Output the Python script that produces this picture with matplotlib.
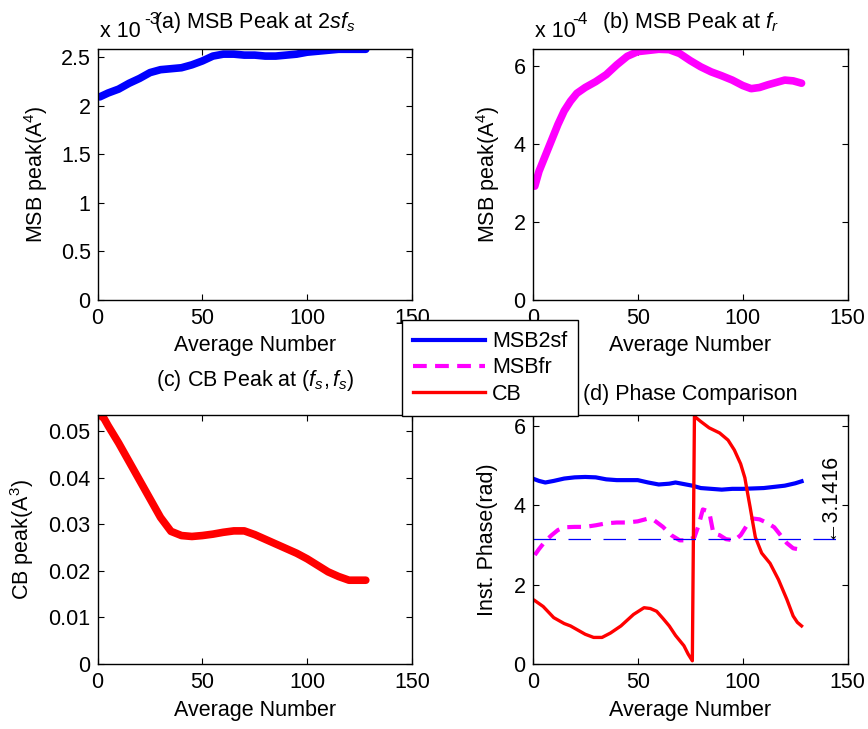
import numpy as np
import matplotlib
matplotlib.use('Agg')
import matplotlib.pyplot as plt
from matplotlib.ticker import FuncFormatter, MultipleLocator

# ---------------- data ----------------
# (a) MSB peak at 2sf_s  (units of 1e-3 A^4)
x_a = [1, 5, 10, 15, 20, 25, 30, 35, 40, 45, 50, 55, 60, 65, 70, 75, 80, 85,
       90, 95, 100, 105, 110, 115, 120, 125, 128]
msb2sf_peak = [2.09, 2.13, 2.17, 2.23, 2.28, 2.34, 2.37, 2.38, 2.39, 2.42, 2.46,
               2.51, 2.53, 2.53, 2.52, 2.52, 2.51, 2.51, 2.52, 2.53, 2.55, 2.56,
               2.57, 2.58, 2.58, 2.58, 2.58]

# (b) MSB peak at f_r  (units of 1e-4 A^4)
x_b = [1, 3, 6, 9, 12, 15, 18, 21, 25, 30, 35, 40, 45, 50, 55, 60, 65, 70, 75,
       80, 85, 90, 95, 100, 104, 108, 112, 116, 120, 124, 128]
msbfr_peak = [2.92, 3.3, 3.7, 4.1, 4.5, 4.85, 5.1, 5.3, 5.45, 5.6, 5.78, 6.03,
              6.25, 6.37, 6.4, 6.43, 6.42, 6.32, 6.14, 5.98, 5.85, 5.75, 5.64,
              5.5, 5.42, 5.45, 5.52, 5.58, 5.64, 5.62, 5.56]

# (c) CB peak (A^3)
x_c = [1, 3, 5, 10, 15, 20, 25, 30, 35, 40, 45, 50, 55, 60, 65, 70, 75, 80, 85,
       90, 95, 100, 105, 110, 115, 120, 124, 128]
cb_peak = [0.0535, 0.0528, 0.0512, 0.0475, 0.0435, 0.0395, 0.0355, 0.0315,
           0.0285, 0.0276, 0.0274, 0.0276, 0.0279, 0.0283, 0.0286, 0.0286,
           0.0278, 0.0268, 0.0258, 0.0248, 0.0238, 0.0226, 0.0212, 0.0198,
           0.0188, 0.0180, 0.0180, 0.0180]

# (d) instantaneous phase (rad)
x_ph_2sf = [1, 3, 6, 10, 15, 20, 25, 30, 35, 40, 45, 50, 55, 60, 65, 68, 72, 76,
            80, 85, 90, 95, 100, 105, 110, 115, 120, 125, 128]
phase_2sf = [4.66, 4.62, 4.58, 4.62, 4.68, 4.71, 4.72, 4.71, 4.66, 4.64, 4.64,
             4.64, 4.58, 4.53, 4.55, 4.58, 4.54, 4.5, 4.44, 4.42, 4.4, 4.42,
             4.42, 4.43, 4.44, 4.47, 4.5, 4.56, 4.61]

x_ph_fr = [1, 3, 6, 9, 12, 15, 20, 25, 30, 35, 40, 45, 50, 55, 58, 62, 66, 70,
           74, 77, 79, 81, 84, 86, 89, 92, 96, 99, 102, 105, 108, 112, 115, 118,
           121, 124, 128]
phase_fr = [2.75, 2.9, 3.1, 3.25, 3.38, 3.45, 3.46, 3.46, 3.5, 3.55, 3.57, 3.57,
            3.6, 3.67, 3.62, 3.46, 3.25, 3.12, 3.12, 3.2, 3.5, 3.9, 3.85, 3.3,
            3.25, 3.15, 3.12, 3.25, 3.5, 3.67, 3.65, 3.55, 3.45, 3.25, 3.05,
            2.92, 2.88]

x_ph_cb = [1, 5, 10, 15, 18, 22, 25, 29, 33, 37, 42, 48, 53, 56, 59, 62, 65, 68,
           72, 74, 76, 77, 80, 84, 89, 93, 96, 99, 101, 102, 103.5, 105, 106,
           109, 113, 117, 121, 124, 126, 128]
phase_cb = [1.6, 1.45, 1.17, 1.02, 0.96, 0.84, 0.75, 0.67, 0.67, 0.78, 0.96,
            1.25, 1.42, 1.4, 1.33, 1.15, 0.96, 0.72, 0.46, 0.25, 0.08, 6.25,
            6.12, 5.96, 5.83, 5.65, 5.4, 5.05, 4.7, 4.4, 3.96, 3.5, 3.2, 2.8,
            2.54, 2.13, 1.63, 1.21, 1.05, 0.96]

legend_labels = ['MSB2sf', 'MSBfr', 'CB']

# ---------------- style ----------------
FS = 15.5
plt.rcParams['font.family'] = ['Liberation Sans', 'DejaVu Sans']
plt.rcParams['mathtext.fontset'] = 'custom'
plt.rcParams['mathtext.rm'] = 'Liberation Sans'
plt.rcParams['mathtext.it'] = 'Liberation Sans:italic'
plt.rcParams['mathtext.bf'] = 'Liberation Sans:bold'
plt.rcParams['font.size'] = FS
plt.rcParams['axes.titlesize'] = FS
plt.rcParams['axes.labelsize'] = FS

BLUE = (0, 0, 1)
MAG = (1, 0, 1)
RED = (1, 0, 0)

fig = plt.figure(figsize=(8.68, 7.29), dpi=100)
ax_a = fig.add_axes([0.1125, 0.5885, 0.362, 0.3439])
ax_b = fig.add_axes([0.6137, 0.5885, 0.363, 0.3439])
ax_c = fig.add_axes([0.1125, 0.0892, 0.362, 0.3415])
ax_d = fig.add_axes([0.6137, 0.0892, 0.363, 0.3415])

fmt = FuncFormatter(lambda v, p: '%g' % round(v, 6))

for ax in (ax_a, ax_b, ax_c, ax_d):
    ax.set_xlim(0, 150)
    ax.xaxis.set_major_locator(MultipleLocator(50))
    ax.xaxis.set_major_formatter(fmt)
    ax.yaxis.set_major_formatter(fmt)
    ax.tick_params(direction='in', top=True, right=True, length=4, width=0.8,
                   labelsize=FS)
    ax.tick_params(axis='x', pad=6)
    ax.tick_params(axis='y', pad=5)
    for s in ax.spines.values():
        s.set_linewidth(1.0)
        s.set_color('black')
    ax.set_xlabel('Average Number')

thick = dict(lw=5.5, solid_capstyle='round', solid_joinstyle='round')


def exponent_label(ax, exp_text, exp_dx):
    ax.annotate('x 10', xy=(0, 1), xycoords='axes fraction',
                xytext=(2, 12), textcoords='offset pixels',
                ha='left', va='baseline', fontsize=FS)
    ax.annotate(exp_text, xy=(0, 1), xycoords='axes fraction',
                xytext=(exp_dx, 25), textcoords='offset pixels',
                ha='left', va='baseline', fontsize=12.5)


# (a)
ax_a.plot(x_a, msb2sf_peak, color=BLUE, **thick)
ax_a.set_ylim(0, max(msb2sf_peak))
ax_a.yaxis.set_major_locator(MultipleLocator(0.5))
ax_a.set_ylabel('MSB peak(A$^4$)')
ax_a.set_title(r'(a) MSB Peak at $\mathit{2sf_s}$', pad=15)
exponent_label(ax_a, '-3', 47)

# (b)
ax_b.plot(x_b, msbfr_peak, color=MAG, **thick)
ax_b.set_ylim(0, max(msbfr_peak))
ax_b.yaxis.set_major_locator(MultipleLocator(2))
ax_b.set_ylabel('MSB peak(A$^4$)')
ax_b.set_title(r'(b) MSB Peak at $f_r$', pad=15)
exponent_label(ax_b, '-4', 40)

# (c)
ax_c.plot(x_c, cb_peak, color=RED, **thick)
ax_c.set_ylim(0, max(cb_peak))
ax_c.yaxis.set_major_locator(MultipleLocator(0.01))
ax_c.set_ylabel('CB peak(A$^3$)')
ax_c.set_title(r'(c) CB Peak at $(f_s,f_s)$', pad=21)

# (d)
l1, = ax_d.plot(x_ph_2sf, phase_2sf, color=BLUE, lw=3)
l2, = ax_d.plot(x_ph_fr, phase_fr, color=MAG, lw=3, linestyle=(0, (3.3, 2)))
l3, = ax_d.plot(x_ph_cb, phase_cb, color=RED, lw=2.4)
ax_d.axhline(np.pi, color=BLUE, lw=0.9, linestyle=(0, (18, 10)))
ax_d.text(140.5, np.pi, '\u21903.1416', rotation=90, ha='center', va='bottom')
ax_d.set_ylim(0, 2 * np.pi)
ax_d.yaxis.set_major_locator(MultipleLocator(2))
ax_d.set_ylabel('Inst. Phase(rad)')
ax_d.set_title('(d) Phase Comparison', pad=11)

# label positions
ax_a.yaxis.set_label_coords(-0.152, 0.5)
ax_b.yaxis.set_label_coords(-0.097, 0.5)
ax_c.yaxis.set_label_coords(-0.196, 0.5)
ax_d.yaxis.set_label_coords(-0.110, 0.5)
for ax in (ax_a, ax_b):
    ax.xaxis.set_label_coords(0.5, -0.14)
for ax in (ax_c, ax_d):
    ax.xaxis.set_label_coords(0.5, -0.145)

leg = fig.legend([l1, l2, l3], legend_labels, loc='center',
                 bbox_to_anchor=(0.5645, 0.4952), fancybox=False,
                 framealpha=1, edgecolor='black', handlelength=3.35,
                 handletextpad=0.35, labelspacing=0.25, borderpad=0.5,
                 fontsize=FS)
leg.get_frame().set_linewidth(1.0)
leg.set_zorder(10)

fig.savefig('out.png', dpi=100, facecolor='white')
